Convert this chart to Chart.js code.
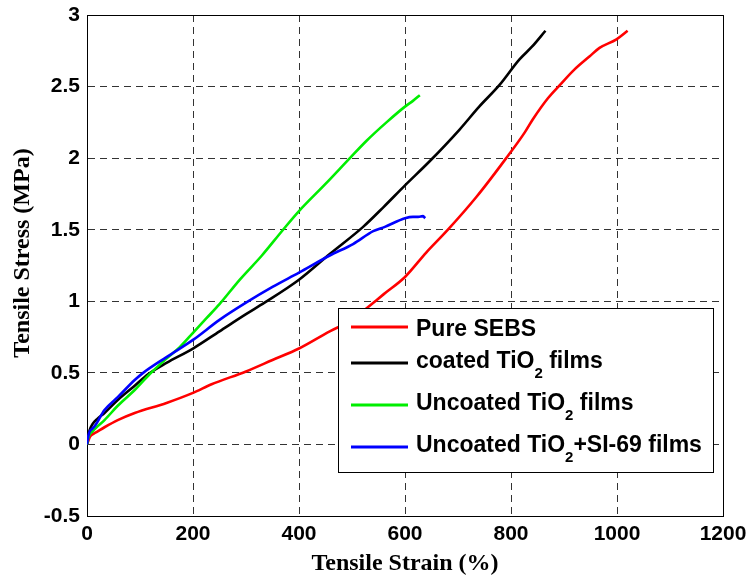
<!DOCTYPE html>
<html>
<head>
<meta charset="utf-8">
<script src="https://cdn.jsdelivr.net/npm/chart.js@4.4.1/dist/chart.umd.min.js"></script>
<style>
  html, body { margin: 0; padding: 0; background: #fff; }
  canvas { display: block; }
</style>
</head>
<body>
<canvas id="stressChart" width="751" height="578"></canvas>
<script>
// strain (%) , stress (MPa) pairs
const pureSEBS = [
  [0, 0], [2, 0.02], [5, 0.05], [10, 0.07], [15, 0.08], [33, 0.12], [58, 0.17], [90, 0.22],
  [150, 0.29], [200, 0.36], [235, 0.42], [300, 0.51], [350, 0.59], [400, 0.67], [458, 0.79],
  [500, 0.87], [527, 0.95], [560, 1.05], [600, 1.17], [640, 1.34], [681, 1.50], [735, 1.73],
  [791, 2.0], [826, 2.18], [841, 2.27], [870, 2.42], [892, 2.51], [920, 2.62], [948, 2.71],
  [967, 2.77], [999, 2.83], [1020, 2.89]
];
const coatedTiO2 = [
  [0, 0], [2, 0.05], [5, 0.10], [10, 0.14], [20, 0.18], [33, 0.22], [58, 0.31], [90, 0.41],
  [115, 0.49], [150, 0.57], [200, 0.67], [250, 0.79], [300, 0.91], [335, 0.99], [400, 1.15],
  [458, 1.33], [521, 1.52], [560, 1.66], [600, 1.81], [647, 1.98], [703, 2.20], [740, 2.36],
  [778, 2.51], [816, 2.69], [840, 2.78], [865, 2.89]
];
const uncoatedTiO2 = [
  [0, 0], [2, 0.04], [5, 0.07], [10, 0.09], [18, 0.12], [33, 0.17], [58, 0.27], [90, 0.38],
  [118, 0.49], [150, 0.60], [175, 0.68], [200, 0.78], [225, 0.88], [250, 0.98], [288, 1.15],
  [330, 1.32], [370, 1.50], [400, 1.63], [450, 1.82], [496, 2.0], [527, 2.12], [565, 2.25],
  [600, 2.36], [615, 2.40], [628, 2.44]
];
const uncoatedTiO2SI69 = [
  [0, 0], [2, 0.05], [5, 0.09], [10, 0.11], [15, 0.13], [33, 0.24], [58, 0.33], [90, 0.45],
  [106, 0.50], [150, 0.61], [200, 0.73], [250, 0.87], [300, 0.99], [350, 1.10], [400, 1.20],
  [458, 1.32], [502, 1.40], [540, 1.49], [562, 1.52], [600, 1.58], [615, 1.59], [625, 1.59],
  [634, 1.595], [638, 1.58]
];

// "_2" marks a subscript 2
const seriesLabels = ['Pure SEBS', 'coated TiO_2 films', 'Uncoated TiO_2 films', 'Uncoated TiO_2+SI-69 films'];
const seriesColors = ['#ff0000', '#000000', '#00ee00', '#0000ff'];
const seriesData = [pureSEBS, coatedTiO2, uncoatedTiO2, uncoatedTiO2SI69];

const xTicks = [0, 200, 400, 600, 800, 1000, 1200];
const yTicks = [-0.5, 0, 0.5, 1, 1.5, 2, 2.5, 3];
const xTitle = 'Tensile Strain (%)';
const yTitle = 'Tensile Stress (MPa)';

const SANS = '"Liberation Sans", Arial, sans-serif';
const SERIF = '"Liberation Serif", "Times New Roman", serif';

// box round the plot + axis titles + matlab style legend
const framePlugin = {
  id: 'frame',
  afterDatasetsDraw(chart) {
    const ctx = chart.ctx;
    const a = chart.chartArea;
    ctx.save();
    ctx.strokeStyle = '#000';
    ctx.lineWidth = 1;
    ctx.beginPath();
    ctx.moveTo(a.left, a.top + 0.5);
    ctx.lineTo(a.right + 0.5, a.top + 0.5);
    ctx.lineTo(a.right + 0.5, a.bottom);
    ctx.stroke();

    // legend
    const box = { x: 338.5, y: 308.5, w: 375, h: 164 };
    ctx.fillStyle = '#fff';
    ctx.fillRect(box.x, box.y, box.w, box.h);
    ctx.strokeRect(box.x, box.y, box.w, box.h);
    const rowY = [327, 363, 405, 447];
    const baseY = [336, 368, 410, 452];
    chart.data.datasets.forEach((ds, i) => {
      ctx.strokeStyle = ds.borderColor;
      ctx.lineWidth = 3;
      ctx.beginPath();
      ctx.moveTo(351, rowY[i]);
      ctx.lineTo(408, rowY[i]);
      ctx.stroke();
      drawLabel(ctx, ds.label, 416, baseY[i]);
    });

    // axis titles
    ctx.fillStyle = '#000';
    ctx.font = 'bold 24px ' + SERIF;
    ctx.textAlign = 'center';
    ctx.textBaseline = 'alphabetic';
    ctx.fillText(xTitle, (a.left + a.right) / 2, 570);
    ctx.translate(29, 253);
    ctx.rotate(-Math.PI / 2);
    ctx.fillText(yTitle, 0, 0);
    ctx.restore();
  }
};

function drawLabel(ctx, text, x, y) {
  ctx.fillStyle = '#000';
  ctx.textAlign = 'left';
  ctx.textBaseline = 'alphabetic';
  const parts = text.split('_');
  parts.forEach((p, k) => {
    if (k > 0) {
      ctx.font = 'bold 15px ' + SANS;
      ctx.fillText(p[0], x, y + 10);
      x += ctx.measureText(p[0]).width;
      p = p.slice(1);
    }
    ctx.font = 'bold 23px ' + SANS;
    ctx.fillText(p, x, y);
    x += ctx.measureText(p).width;
  });
}

const ctx = document.getElementById('stressChart').getContext('2d');
const chart = new Chart(ctx, {
  type: 'scatter',
  data: {
    datasets: seriesData.map((pts, i) => ({
      label: seriesLabels[i],
      data: pts.map(p => ({ x: p[0], y: p[1] })),
      borderColor: seriesColors[i],
      backgroundColor: seriesColors[i],
      borderWidth: 2.6,
      showLine: true,
      pointRadius: 0,
      cubicInterpolationMode: 'monotone',
      order: 3 - i
    }))
  },
  options: {
    responsive: false,
    animation: false,
    devicePixelRatio: 1,
    layout: { padding: { top: 15, right: 28, left: 0, bottom: 0 } },
    plugins: {
      legend: { display: false },
      tooltip: { enabled: false }
    },
    scales: {
      x: {
        type: 'linear',
        min: 0,
        max: 1200,
        afterBuildTicks: s => { s.ticks = xTicks.map(v => ({ value: v })); },
        afterFit: s => { s.height = 62; },
        ticks: {
          color: '#000',
          font: { family: SANS, size: 21, weight: 'bold', lineHeight: 1.4 },
          padding: 4,
          maxRotation: 0,
          callback: v => String(v)
        },
        grid: { color: '#333', lineWidth: 1, drawTicks: false },
        border: { display: true, color: '#000', width: 1, dash: [7, 5] }
      },
      y: {
        type: 'linear',
        min: -0.5,
        max: 3,
        afterBuildTicks: s => { s.ticks = yTicks.map(v => ({ value: v })); },
        afterFit: s => { s.width = 87; },
        ticks: {
          color: '#000',
          font: { family: SANS, size: 21, weight: 'bold', lineHeight: 0.6 },
          padding: 7,
          callback: v => String(v)
        },
        grid: { color: '#333', lineWidth: 1, drawTicks: false },
        border: { display: true, color: '#000', width: 1, dash: [7, 5] }
      }
    }
  },
  plugins: [framePlugin]
});
</script>
</body>
</html>
